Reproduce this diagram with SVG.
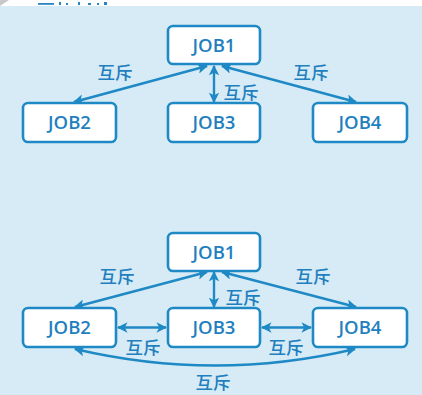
<svg xmlns="http://www.w3.org/2000/svg" width="422" height="395" viewBox="0 0 422 395">
<defs>
<marker id="ah" viewBox="0 0 10 10" refX="9" refY="5" markerWidth="4.6" markerHeight="4.4" orient="auto-start-reverse" markerUnits="strokeWidth">
<path d="M0,0 L10,5 L0,10 L2.5,5 Z" fill="#1f89c5"/>
</marker>
<style>
.box{fill:#ffffff;stroke:#1f89c5;stroke-width:2.6}
.lbl{font-family:"Open Sans","Noto Sans",sans-serif;font-size:18.5px;font-weight:600;fill:#1f7fbf;text-anchor:middle}
.cn{font-family:"Noto Sans CJK SC","Noto Sans CJK JP",sans-serif;font-size:17.5px;font-weight:500;fill:#1f7fbf;text-anchor:middle}
.ln{fill:none;stroke:#1f89c5;stroke-width:2.4;marker-start:url(#ah);marker-end:url(#ah)}
</style>
</defs>
<rect x="0" y="0" width="422" height="395" fill="#ffffff"/>
<rect x="0" y="6" width="422" height="389" fill="#d6ebf6"/>
<g id="title">
<polygon points="0,0 9,0 0,6" fill="#c8c8c8"/>
<rect x="38" y="3" width="16" height="1.8" fill="#2a86c3"/>
<rect x="59" y="2" width="2" height="3" fill="#2a86c3"/>
<rect x="66" y="3" width="2" height="2" fill="#2a86c3"/>
<rect x="78" y="2" width="2" height="3" fill="#2a86c3"/>
<rect x="88" y="3" width="3" height="2" fill="#2a86c3"/>
<rect x="97" y="3" width="2" height="2" fill="#2a86c3"/>
<rect x="104" y="2" width="3" height="3" fill="#2a86c3"/>
</g>
<g id="connectors">
<line class="ln" x1="207" y1="66" x2="74" y2="102"/>
<line class="ln" x1="214" y1="66" x2="214" y2="102"/>
<line class="ln" x1="222" y1="66" x2="356" y2="102"/>
<line class="ln" x1="207" y1="272" x2="75" y2="307"/>
<line class="ln" x1="214" y1="272" x2="214" y2="307"/>
<line class="ln" x1="222" y1="272" x2="356" y2="307"/>
<line class="ln" x1="118" y1="327.5" x2="166" y2="327.5"/>
<line class="ln" x1="262" y1="327.5" x2="311" y2="327.5"/>
<path class="ln" d="M75,349 Q215,382 355,349"/>
</g>
<g id="labels">
<text class="cn" x="115" y="78.5">互斥</text>
<text class="cn" x="241" y="98.5">互斥</text>
<text class="cn" x="311" y="78.5">互斥</text>
<text class="cn" x="117" y="282.5">互斥</text>
<text class="cn" x="243" y="303.5">互斥</text>
<text class="cn" x="313" y="282.5">互斥</text>
<text class="cn" x="143" y="353.5">互斥</text>
<text class="cn" x="286" y="353.5">互斥</text>
<text class="cn" x="213" y="388.5">互斥</text>
</g>
<g id="t-job1"><rect class="box" x="168" y="26" width="92" height="38" rx="5"/><text class="lbl" x="214" y="51.5">JOB1</text></g>
<g id="t-job2"><rect class="box" x="23" y="103" width="93" height="39" rx="5"/><text class="lbl" x="69.5" y="129">JOB2</text></g>
<g id="t-job3"><rect class="box" x="168" y="103" width="92" height="39" rx="5"/><text class="lbl" x="214" y="129">JOB3</text></g>
<g id="t-job4"><rect class="box" x="313" y="103" width="94" height="39" rx="5"/><text class="lbl" x="360" y="129">JOB4</text></g>
<g id="b-job1"><rect class="box" x="168" y="233" width="92" height="38" rx="5"/><text class="lbl" x="214" y="258.5">JOB1</text></g>
<g id="b-job2"><rect class="box" x="23" y="308" width="93" height="39" rx="5"/><text class="lbl" x="69.5" y="334">JOB2</text></g>
<g id="b-job3"><rect class="box" x="168" y="308" width="92" height="39" rx="5"/><text class="lbl" x="214" y="334">JOB3</text></g>
<g id="b-job4"><rect class="box" x="313" y="308" width="94" height="39" rx="5"/><text class="lbl" x="360" y="334">JOB4</text></g>
</svg>
